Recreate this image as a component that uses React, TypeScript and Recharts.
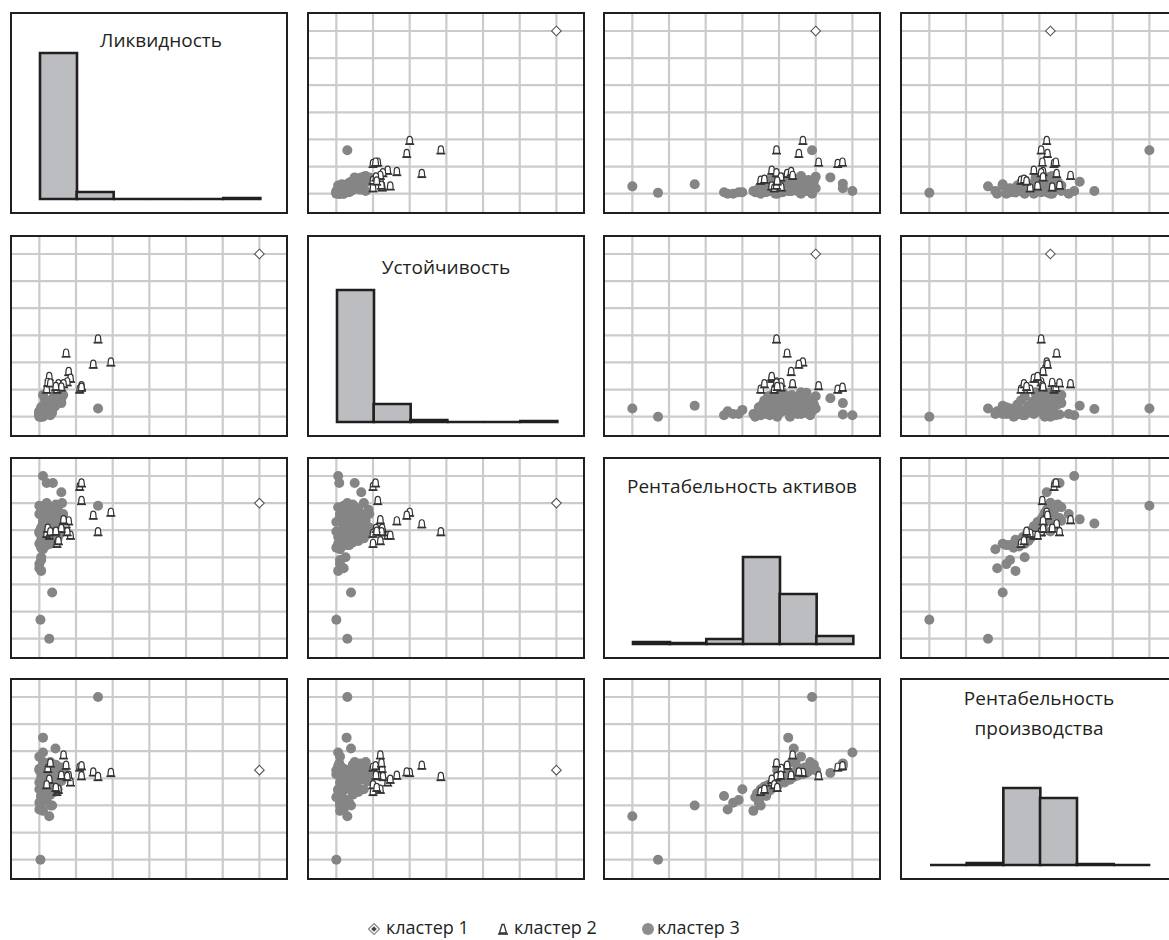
import React from 'react';
import { ScatterChart, Scatter, BarChart, Bar, XAxis, YAxis, CartesianGrid } from 'recharts';

// variable order in every point: [Ликвидность, Устойчивость, Рентабельность активов, Рентабельность производства]
// values are in grid units (the panels show a 0..6 grid)
const VARIABLES = ['Ликвидность', 'Устойчивость', 'Рентабельность активов', 'Рентабельность производства'];

const CLUSTER_1 = [[6.0, 6.0, 5.0, 3.3]];

const CLUSTER_2 = [
    [1.95, 2.0, 4.65, 3.2],
    [1.47, 1.92, 4.54, 3.22],
    [1.6, 2.85, 3.93, 3.05],
    [0.73, 2.33, 4.22, 3.47],
    [0.8, 1.65, 4.33, 3.1],
    [0.85, 1.4, 3.8, 2.85],
    [0.76, 1.27, 3.93, 3.05],
    [1.15, 1.13, 5.08, 3.08],
    [1.1, 1.0, 5.6, 3.4],
    [1.15, 1.07, 5.73, 3.45],
    [0.27, 1.47, 3.8, 2.95],
    [0.48, 1.0, 3.5, 2.5],
    [0.52, 1.2, 3.6, 2.58],
    [0.2, 1.0, 3.87, 2.75],
    [0.66, 1.2, 4.37, 3.85],
    [0.23, 1.25, 4.06, 3.35],
    [0.3, 1.23, 3.93, 3.55],
    [0.6, 1.08, 4.05, 3.1],
    [0.45, 1.1, 3.95, 2.65],
];

const CLUSTER_3 = [
    // scattered points
    [0.27, 0.3, 0.0, 1.6],
    [0.03, 0.0, 0.7, 0.0],
    [0.35, 0.4, 1.7, 2.0],
    [1.6, 0.3, 4.9, 6.0],
    [0.05, 0.05, 2.5, 2.35],
    [0.0, 0.2, 2.6, 1.85],
    [0.0, 0.1, 2.75, 2.1],
    [0.05, 0.1, 2.9, 2.2],
    [0.05, 0.25, 3.0, 2.6],
    [0.1, 0.1, 3.3, 1.8],
    [0.1, 0.05, 6.0, 3.95],
    [0.2, 0.08, 5.74, 3.55],
    [0.37, 0.5, 5.74, 3.45],
    [0.6, 0.68, 5.4, 3.2],
    [0.62, 0.75, 5.0, 3.3],
    [0.5, 0.9, 4.6, 3.3],
    [0.45, 0.88, 4.75, 3.2],
    [0.1, 0.28, 4.25, 4.5],
    [0.44, 0.4, 4.4, 4.1],
    [0.0, 0.1, 4.6, 3.8],
    [0.3, 0.5, 4.85, 3.6],
    // main cloud
    [0.05, 0.0, 3.35, 2.3],
    [0.1, 0.15, 3.4, 2.45],
    [0.2, 0.3, 3.45, 2.2],
    [0.0, 0.05, 3.5, 2.6],
    [0.3, 0.45, 3.55, 2.4],
    [0.15, 0.2, 3.6, 2.7],
    [0.4, 0.6, 3.6, 2.5],
    [0.05, 0.1, 3.65, 2.35],
    [0.25, 0.35, 3.7, 2.75],
    [0.5, 0.75, 3.7, 2.6],
    [0.1, 0.05, 3.75, 2.55],
    [0.35, 0.55, 3.8, 2.8],
    [0.2, 0.25, 3.85, 2.65],
    [0.55, 0.85, 3.85, 2.9],
    [0.0, 0.1, 3.9, 2.85],
    [0.3, 0.4, 3.95, 2.7],
    [0.45, 0.65, 4.0, 2.95],
    [0.15, 0.15, 4.0, 2.8],
    [0.25, 0.5, 4.05, 3.0],
    [0.6, 0.9, 4.1, 2.9],
    [0.05, 0.2, 4.1, 3.05],
    [0.35, 0.3, 4.15, 2.85],
    [0.2, 0.6, 4.2, 3.1],
    [0.4, 0.75, 4.25, 3.0],
    [0.1, 0.0, 4.3, 3.15],
    [0.5, 0.55, 4.3, 2.95],
    [0.3, 0.2, 4.35, 3.2],
    [0.15, 0.45, 4.4, 3.05],
    [0.55, 0.7, 4.45, 3.25],
    [0.25, 0.1, 4.5, 3.1],
    [0.4, 0.35, 4.5, 3.3],
    [0.05, 0.25, 4.55, 3.2],
    [0.65, 0.8, 4.6, 3.35],
    [0.2, 0.55, 4.65, 3.15],
    [0.35, 0.15, 4.7, 3.4],
    [0.1, 0.4, 4.75, 3.3],
    [0.5, 0.6, 4.8, 3.25],
    [0.3, 0.05, 4.85, 3.45],
    [0.0, 0.2, 4.9, 3.35],
    [0.45, 0.45, 4.95, 3.5],
    [0.2, 0.3, 5.0, 3.3],
    [0.15, 0.65, 4.45, 3.55],
    [0.6, 0.5, 4.2, 3.4],
    [0.0, 0.0, 3.95, 3.3],
    [0.1, 0.8, 4.35, 3.6],
    [0.3, 0.1, 3.5, 2.0],
    [0.05, 0.35, 3.45, 2.1],
];

// histograms on the diagonal, six bins each
const BINS = ['1', '2', '3', '4', '5', '6'];
const HIST_LIQUIDITY = [146, 7, 0, 0, 0, 1];
const HIST_STABILITY = [132, 18, 2, 0, 0, 1];
const HIST_ASSETS = [2, 1, 5, 87, 50, 8];
const HIST_PRODUCTION = [0, 2, 77, 67, 1, 0];
const HISTOGRAMS = [HIST_LIQUIDITY, HIST_STABILITY, HIST_ASSETS, HIST_PRODUCTION];

const GRID_TICKS = [0, 1, 2, 3, 4, 5, 6];
const LEGEND = ['кластер 1', 'кластер 2', 'кластер 3'];

const PANEL_W = 278;
const PANEL_H = 202;
const COL_X = [10, 307, 603, 900];
const ROW_Y = [12, 235, 457, 678];
const FONT = '"Open Sans", "Noto Sans", sans-serif';
const DARK = '#231f20';
const DOT_GRAY = '#858585';

// title lines and baselines (from panel top) for the diagonal panels
const TITLES: { lines: string[]; dx: number; y: number[] }[] = [
    { lines: [VARIABLES[0]], dx: 12, y: [35] },
    { lines: [VARIABLES[1]], dx: 0, y: [39] },
    { lines: [VARIABLES[2]], dx: 0, y: [36] },
    { lines: ['Рентабельность', 'производства'], dx: 0, y: [27, 57] },
];

const DotShape = (props: any) => <circle cx={props.cx} cy={props.cy} r={5} fill={DOT_GRAY} />;

const BellShape = (props: any) => {
    const { cx, cy } = props;
    return (
        <g>
            <path
                d={`M${cx - 3},${cy + 3} L${cx - 2.6},${cy - 1} Q${cx - 2.6},${cy - 4.5} ${cx},${cy - 4.5} Q${cx + 2.6},${cy - 4.5} ${cx + 2.6},${cy - 1} L${cx + 3},${cy + 3} Z`}
                fill="#fff" stroke="#333" strokeWidth={1.2}
            />
            <line x1={cx - 4.5} x2={cx + 4.5} y1={cy + 3.4} y2={cy + 3.4} stroke="#333" strokeWidth={1.6} />
        </g>
    );
};

const DiamondShape = (props: any) => {
    const { cx, cy } = props;
    return <path d={`M${cx},${cy - 4.8} L${cx + 4.8},${cy} L${cx},${cy + 4.8} L${cx - 4.8},${cy} Z`} fill="#fff" stroke="#555" strokeWidth={1.1} />;
};

// a bar drawn as a closed path so empty bins still show their outline
const HistBar = (props: any) => {
    const { x, y, width, height } = props;
    const h = Math.max(height || 0, 0);
    return <path d={`M${x},${y + h} h${width} v${-h} h${-width} Z`} fill="#bcbdc1" stroke={DARK} strokeWidth={2.6} />;
};

const ScatterPanel = ({ row, col }: { row: number; col: number }) => {
    const pick = (pts: number[][]) => pts.map(p => ({ x: p[col], y: p[row] }));
    return (
        <ScatterChart width={PANEL_W} height={PANEL_H} margin={{ top: 0, right: 0, bottom: 0, left: 0 }}>
            <CartesianGrid stroke="#cbcbcb" strokeWidth={2.2} syncWithTicks />
            <XAxis type="number" dataKey="x" domain={[-0.8, 6.78]} ticks={GRID_TICKS} hide allowDataOverflow />
            <YAxis type="number" dataKey="y" domain={[-0.75, 6.7]} ticks={GRID_TICKS} hide allowDataOverflow />
            <Scatter data={pick(CLUSTER_1)} shape={DiamondShape} isAnimationActive={false} />
            <Scatter data={pick(CLUSTER_3)} shape={DotShape} isAnimationActive={false} />
            <Scatter data={pick(CLUSTER_2)} shape={BellShape} isAnimationActive={false} />
        </ScatterChart>
    );
};

const HistPanel = ({ index }: { index: number }) => {
    const data = BINS.map((bin, i) => ({ bin, count: HISTOGRAMS[index][i] }));
    const title = TITLES[index];
    return (
        <>
            <BarChart width={PANEL_W} height={PANEL_H} data={data} margin={{ top: 27, right: 28, bottom: 15, left: 30 }} barCategoryGap={0}>
                <XAxis dataKey="bin" hide />
                <YAxis domain={[0, 160]} hide />
                <Bar dataKey="count" shape={HistBar} isAnimationActive={false} />
            </BarChart>
            <svg width={PANEL_W} height={PANEL_H} style={{ position: 'absolute', left: 0, top: 0 }}>
                {title.lines.map((line, i) => (
                    <text key={i} x={PANEL_W / 2 + title.dx} y={title.y[i]} textAnchor="middle" fontFamily={FONT} fontSize={19} fill={DARK}>
                        {line}
                    </text>
                ))}
            </svg>
        </>
    );
};

const Legend = () => (
    <svg width={1169} height={40} style={{ position: 'absolute', left: 0, top: 900 }}>
        <g transform="translate(374,29)">
            <path d="M0,-5.5 L5.5,0 L0,5.5 L-5.5,0 Z" fill="#fff" stroke="#888" strokeWidth={1.2} />
            <path d="M0,-2.8 L2.8,0 L0,2.8 L-2.8,0 Z" fill="#444" />
        </g>
        <text x={386} y={34} fontFamily={FONT} fontSize={18} fill={DARK}>{LEGEND[0]}</text>
        <g transform="translate(503,29)">
            <path d="M-3.5,4 L-1,-4.5 L1,-4.5 L3.5,4 Z" fill="#fff" stroke="#333" strokeWidth={1.3} />
            <line x1={-5} x2={5} y1={5} y2={5} stroke="#333" strokeWidth={1.6} />
        </g>
        <text x={514} y={34} fontFamily={FONT} fontSize={18} fill={DARK}>{LEGEND[1]}</text>
        <circle cx={648} cy={29} r={6} fill="#8d8d8d" />
        <text x={657} y={34} fontFamily={FONT} fontSize={18} fill={DARK}>{LEGEND[2]}</text>
    </svg>
);

const App = () => {
    return (
        <div style={{ position: 'absolute', left: 0, top: 0, width: 1169, height: 940, overflow: 'hidden', background: '#fff', fontFamily: FONT }}>
            {ROW_Y.map((top, row) =>
                COL_X.map((left, col) => (
                    <div key={`${row}-${col}`} style={{ position: 'absolute', left, top, width: PANEL_W, height: PANEL_H }}>
                        {row === col ? <HistPanel index={row} /> : <ScatterPanel row={row} col={col} />}
                        <div style={{ position: 'absolute', left: 0, top: 0, width: PANEL_W, height: PANEL_H, boxSizing: 'border-box', border: `2.5px solid ${DARK}`, pointerEvents: 'none' }} />
                    </div>
                ))
            )}
            <Legend />
        </div>
    );
};

export default App;
